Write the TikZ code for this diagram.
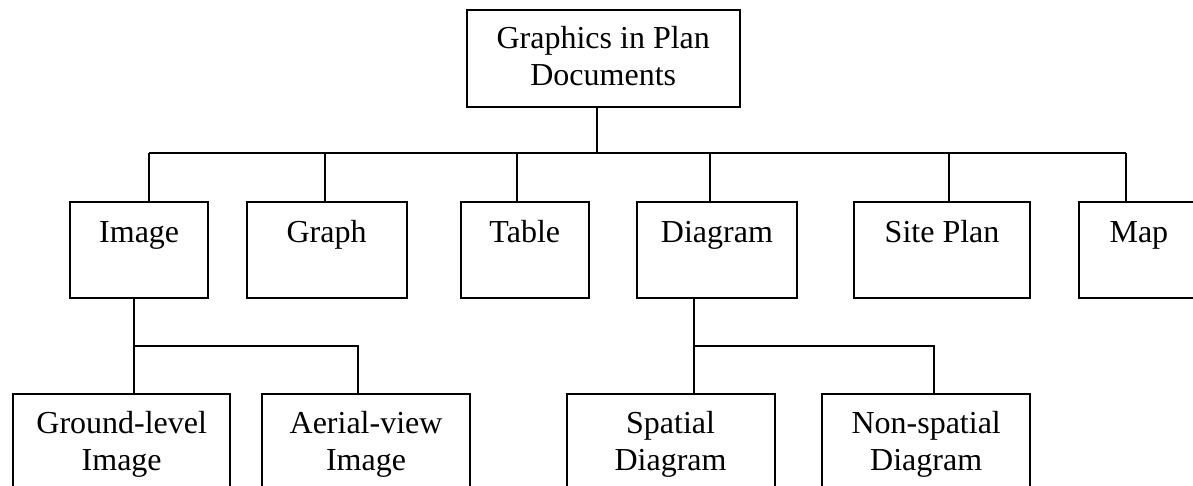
\documentclass[tikz,border=0pt]{standalone}
\usepackage{fontspec}
\setmainfont{Liberation Serif}
\begin{document}
\begin{tikzpicture}[x=1pt,y=-1pt,
  box/.style={draw,line width=1.8pt,inner sep=0pt,anchor=north west,shape=rectangle},
  lbl/.style={inner sep=0pt,anchor=base,align=center,font=\fontsize{32}{37.5}\selectfont},
  wire/.style={line width=1.8pt}]
\clip (0,0) rectangle (1193,486);
\useasboundingbox (0,0) rectangle (1193,486);
% boxes
\node[box,minimum width=272.7pt,minimum height=97pt] (top) at (466,9) {};
\node[box,minimum width=138pt,minimum height=95.4pt] (img) at (69.3,201.3) {};
\node[box,minimum width=160pt,minimum height=95.4pt] (graph) at (245.7,201.3) {};
\node[box,minimum width=128.3pt,minimum height=95.4pt] (table) at (459.7,201.3) {};
\node[box,minimum width=160.6pt,minimum height=95.4pt] (diag) at (635.7,201.3) {};
\node[box,minimum width=175.7pt,minimum height=95.4pt] (site) at (853.3,201.3) {};
\node[box,minimum width=120.6pt,minimum height=95.4pt] (map) at (1077.7,201.3) {};
\node[box,minimum width=217pt,minimum height=110pt] (ground) at (12.3,393.3) {};
\node[box,minimum width=207.7pt,minimum height=110pt] (aerial) at (261.3,393.3) {};
\node[box,minimum width=208pt,minimum height=110pt] (spatial) at (565.7,393.3) {};
\node[box,minimum width=208pt,minimum height=110pt] (nonsp) at (821.3,393.3) {};
% labels (base = baseline of last line)
\node[lbl] (topT) at ([yshift=-77pt]top.north) {Graphics in Plan\\Documents};
\node[lbl] (imgT) at ([yshift=-41pt]img.north) {Image};
\node[lbl] (graphT) at ([yshift=-41pt]graph.north) {Graph};
\node[lbl] (tableT) at ([yshift=-41pt]table.north) {Table};
\node[lbl] (diagT) at ([yshift=-41pt]diag.north) {Diagram};
\node[lbl] (siteT) at ([yshift=-41pt]site.north) {Site Plan};
\node[lbl] (mapT) at ([yshift=-41pt]map.north) {Map};
\node[lbl] (groundT) at ([yshift=-77.4pt]ground.north) {Ground-level\\Image};
\node[lbl] (aerialT) at ([yshift=-77.4pt]aerial.north) {Aerial-view\\Image};
\node[lbl] (spatialT) at ([yshift=-77.4pt]spatial.north) {Spatial\\Diagram};
\node[lbl] (nonspT) at ([yshift=-77.4pt]nonsp.north) {Non-spatial\\Diagram};
% junctions
\coordinate (hub) at (597.3,153.3);
\coordinate (cImg) at (149,153.3);
\coordinate (cGraph) at (325.3,153.3);
\coordinate (cTable) at (517.3,153.3);
\coordinate (cDiag) at (709.7,153.3);
\coordinate (cSite) at (949.3,153.3);
\coordinate (cMap) at (1125.7,153.3);
\coordinate (iHub) at (133.7,345.7);
\coordinate (iR) at (357.7,345.7);
\coordinate (dHub) at (693.7,345.7);
\coordinate (dR) at (933.7,345.7);
% connectors
\draw[wire] (top.south -| hub) -- (hub);
\draw[wire] (cImg) -- (cMap);
\draw[wire] (cImg) -- (cImg |- img.north);
\draw[wire] (cGraph) -- (cGraph |- graph.north);
\draw[wire] (cTable) -- (cTable |- table.north);
\draw[wire] (cDiag) -- (cDiag |- diag.north);
\draw[wire] (cSite) -- (cSite |- site.north);
\draw[wire] (cMap) -- (cMap |- map.north);
\draw[wire] (img.south -| iHub) -- (iHub) -- (iR) -- (iR |- aerial.north);
\draw[wire] (iHub) -- (iHub |- ground.north);
\draw[wire] (diag.south -| dHub) -- (dHub) -- (dR) -- (dR |- nonsp.north);
\draw[wire] (dHub) -- (dHub |- spatial.north);
\end{tikzpicture}
\end{document}
